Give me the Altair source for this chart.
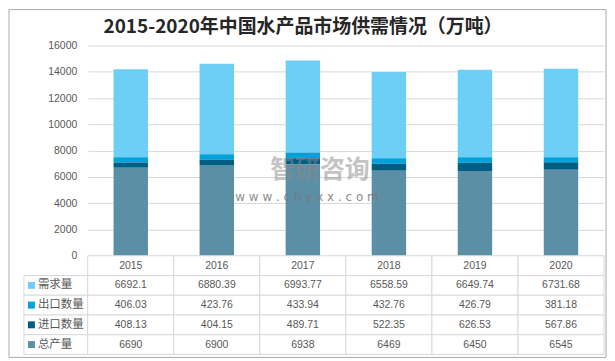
import altair as alt
import pandas as pd

# ---------------- data ----------------
years = ["2015", "2016", "2017", "2018", "2019", "2020"]
series = ["需求量", "出口数量", "进口数量", "总产量"]
demand = [6692.1, 6880.39, 6993.77, 6558.59, 6649.74, 6731.68]
exports = [406.03, 423.76, 433.94, 432.76, 426.79, 381.18]
imports = [408.13, 404.15, 489.71, 522.35, 626.53, 567.86]
production = [6690, 6900, 6938, 6469, 6450, 6545]
colors = ["#6DCFF6", "#00A2DC", "#005E84", "#5A8FA6"]
y_ticks = [0, 2000, 4000, 6000, 8000, 10000, 12000, 14000, 16000]
title_text = "2015-2020年中国水产品市场供需情况（万吨）"
watermark = ["智研咨询", "w w w . c h y x x . c o m"]

values_by_series = {"需求量": demand, "出口数量": exports,
                    "进口数量": imports, "总产量": production}
stack_rank = {"总产量": 0, "进口数量": 1, "出口数量": 2, "需求量": 3}

TEXT = "#595959"
GRID = "#d9d9d9"
NUM_FONT = "Liberation Sans"
CJK_FONT = "Noto Sans CJK SC"

PLOT_W = 518
PLOT_H = 211
LABEL_COL = 64
COLW = PLOT_W / len(years)
LW = LABEL_COL / COLW

color_scale = alt.Scale(domain=series, range=colors)

# ---------------- bars ----------------
bar_rows = []
for s in series:
    for yr, v in zip(years, values_by_series[s]):
        bar_rows.append({"year": yr, "series": s, "value": v, "rank": stack_rank[s]})
bar_df = pd.DataFrame(bar_rows)

bars = alt.Chart(bar_df).mark_bar().encode(
    x=alt.X("year:N", sort=years, axis=None,
            scale=alt.Scale(paddingInner=0.6, paddingOuter=0.3)),
    y=alt.Y("value:Q", stack="zero",
            scale=alt.Scale(domain=[0, 16000], nice=False),
            axis=alt.Axis(values=y_ticks, format="d", grid=True, gridColor=GRID,
                          domain=False, ticks=False, labelColor=TEXT, labelFontSize=10.5,
                          labelFont=NUM_FONT, labelPadding=11, minExtent=LABEL_COL,
                          maxExtent=LABEL_COL, title=None)),
    color=alt.Color("series:N", scale=color_scale, legend=None),
    order=alt.Order("rank:Q"),
)

one = pd.DataFrame({"k": [0]})

wm1 = alt.Chart(pd.DataFrame({"t": [watermark[0]]})).mark_text(
    font=CJK_FONT, fontSize=25, color="#8a8a8a", opacity=0.5,
    fontWeight="bold").encode(x=alt.value(233), y=alt.value(125), text="t:N")
wm2 = alt.Chart(pd.DataFrame({"t": [watermark[1]]})).mark_text(
    font="DejaVu Sans", fontSize=12, color="#7a7a7a", opacity=0.85).encode(
    x=alt.value(220), y=alt.value(152), text="t:N")

title = alt.Chart(pd.DataFrame({"t": [title_text]})).mark_text(
    font=CJK_FONT, fontSize=19, fontWeight="bold", color="#262626",
    baseline="middle").encode(x=alt.value(216), y=alt.value(-19), text="t:N")

frame = alt.Chart(one).mark_rect(
    filled=False, stroke="#ababab", strokeWidth=1).encode(
    x=alt.value(-79), x2=alt.value(520), y=alt.value(-36), y2=alt.value(313))

top = alt.layer(bars, wm1, wm2, title, frame).properties(width=PLOT_W, height=PLOT_H)

# ---------------- table ----------------
def fmt(v):
    return str(v)

cell_rows = []
text_rows = []
label_rows = []
for i, yr in enumerate(years):
    cell_rows.append({"x0": i, "x1": i + 1, "y0": 0, "y1": 1})
    text_rows.append({"xc": i + 0.5, "yc": 0.5, "label": yr})
for r, s in enumerate(series, start=1):
    cell_rows.append({"x0": -LW, "x1": 0, "y0": r, "y1": r + 1})
    label_rows.append({"x0": -LW, "yc": r + 0.5, "series": s})
    for i, v in enumerate(values_by_series[s]):
        cell_rows.append({"x0": i, "x1": i + 1, "y0": r, "y1": r + 1})
        text_rows.append({"xc": i + 0.5, "yc": r + 0.5, "label": fmt(v)})

# the label column lies left of the plot area (like the axis above it)
xs = alt.Scale(domain=[0, len(years)], nice=False, zero=False)
ys = alt.Scale(domain=[0, len(series) + 1], nice=False, reverse=True)

cells = alt.Chart(pd.DataFrame(cell_rows)).mark_rect(
    fill="white", stroke=GRID, strokeWidth=1).encode(
    x=alt.X("x0:Q", scale=xs, axis=None), x2="x1:Q",
    y=alt.Y("y0:Q", scale=ys, axis=None), y2="y1:Q")

nums = alt.Chart(pd.DataFrame(text_rows)).mark_text(
    font=NUM_FONT, fontSize=10.5, color=TEXT).encode(
    x=alt.X("xc:Q", scale=xs, axis=None),
    y=alt.Y("yc:Q", scale=ys, axis=None), text="label:N")

names = alt.Chart(pd.DataFrame(label_rows)).mark_text(
    font=CJK_FONT, fontSize=11.5, color=TEXT, align="left", dx=14).encode(
    x=alt.X("x0:Q", scale=xs, axis=None),
    y=alt.Y("yc:Q", scale=ys, axis=None), text="series:N")

squares = alt.Chart(pd.DataFrame(label_rows)).mark_square(
    size=49, opacity=1, xOffset=7.5).encode(
    x=alt.X("x0:Q", scale=xs, axis=None),
    y=alt.Y("yc:Q", scale=ys, axis=None),
    color=alt.Color("series:N", scale=color_scale, legend=None))

table = alt.layer(cells, nums, names, squares).properties(
    width=PLOT_W, height=99)

chart = alt.vconcat(top, table, spacing=0, bounds="flush").resolve_scale(
    x="independent", y="independent"
).properties(
    padding={"left": 0, "top": 0, "right": 0, "bottom": 0},
).configure_view(strokeWidth=0)

chart.save("out.html", embed_options={"renderer": "svg", "actions": False})
